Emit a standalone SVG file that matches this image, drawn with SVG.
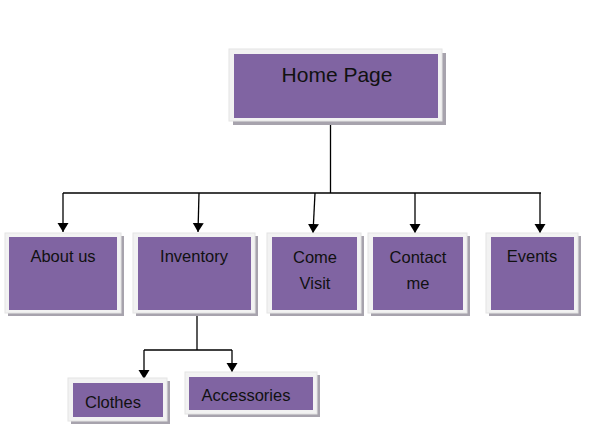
<svg xmlns="http://www.w3.org/2000/svg" width="591" height="425" viewBox="0 0 591 425">
<defs>
<style>
.sh{fill:#a7a3ad}
.fr{fill:#f2f2f2;stroke:#e4e4e4;stroke-width:1}
.in{fill:#8064a2}
.t{font-family:"Liberation Sans",Arial,sans-serif;font-size:16.5px;fill:#111;text-anchor:middle}
.big{font-size:21px}
.ln{fill:none;stroke:#000;stroke-width:1.3}
</style>
<marker id="ah" markerUnits="userSpaceOnUse" markerWidth="12" markerHeight="12" refX="9" refY="5.5" orient="auto">
<path d="M0,0 L9,5.5 L0,11 Z" fill="#000"/>
</marker>
</defs>
<rect width="591" height="425" fill="#fff"/>
<g id="connectors">
<path class="ln" d="M330.5,118 V193"/>
<path class="ln" d="M63,193 H541"/>
<path class="ln" d="M63,193 V232" marker-end="url(#ah)"/>
<path class="ln" d="M199,193 L198,232" marker-end="url(#ah)"/>
<path class="ln" d="M315,193 L313,233" marker-end="url(#ah)"/>
<path class="ln" d="M415,193 V233" marker-end="url(#ah)"/>
<path class="ln" d="M540,193 V233" marker-end="url(#ah)"/>
<path class="ln" d="M197,310 V350"/>
<path class="ln" d="M144,350 H232"/>
<path class="ln" d="M144,350 V379" marker-end="url(#ah)"/>
<path class="ln" d="M232,350 V372" marker-end="url(#ah)"/>
</g>
<g id="home">
<rect class="sh" x="233" y="53" width="213" height="72"/>
<rect class="fr" x="229" y="49" width="213" height="72"/>
<rect class="in" x="234" y="54" width="204" height="64"/>
<text class="t big" x="337" y="82">Home Page</text>
</g>
<g id="about">
<rect class="sh" x="8" y="236" width="116" height="80"/>
<rect class="fr" x="5" y="233" width="116" height="80"/>
<rect class="in" x="9" y="237" width="108" height="73"/>
<text class="t" x="63" y="262">About us</text>
</g>
<g id="inventory">
<rect class="sh" x="136" y="236" width="122" height="80"/>
<rect class="fr" x="133" y="233" width="122" height="80"/>
<rect class="in" x="138" y="237" width="113" height="73"/>
<text class="t" x="194" y="262">Inventory</text>
</g>
<g id="comevisit">
<rect class="sh" x="270" y="236" width="94" height="80"/>
<rect class="fr" x="267" y="233" width="94" height="80"/>
<rect class="in" x="272" y="237" width="85" height="73"/>
<text class="t" x="315" y="263">Come</text>
<text class="t" x="315" y="289">Visit</text>
</g>
<g id="contact">
<rect class="sh" x="371" y="236" width="99" height="80"/>
<rect class="fr" x="368" y="233" width="99" height="80"/>
<rect class="in" x="373" y="237" width="90" height="73"/>
<text class="t" x="418" y="263">Contact</text>
<text class="t" x="418" y="289">me</text>
</g>
<g id="events">
<rect class="sh" x="489" y="236" width="92" height="80"/>
<rect class="fr" x="486" y="233" width="92" height="80"/>
<rect class="in" x="491" y="237" width="83" height="73"/>
<text class="t" x="532" y="262">Events</text>
</g>
<g id="clothes">
<rect class="sh" x="71" y="381" width="99" height="43"/>
<rect class="fr" x="68" y="378" width="99" height="43"/>
<rect class="in" x="73" y="383" width="90" height="34"/>
<text class="t" x="113" y="408">Clothes</text>
</g>
<g id="accessories">
<rect class="sh" x="188" y="375" width="132" height="42"/>
<rect class="fr" x="185" y="372" width="132" height="42"/>
<rect class="in" x="189" y="377" width="124" height="33"/>
<text class="t" x="246" y="401">Accessories</text>
</g>
</svg>
